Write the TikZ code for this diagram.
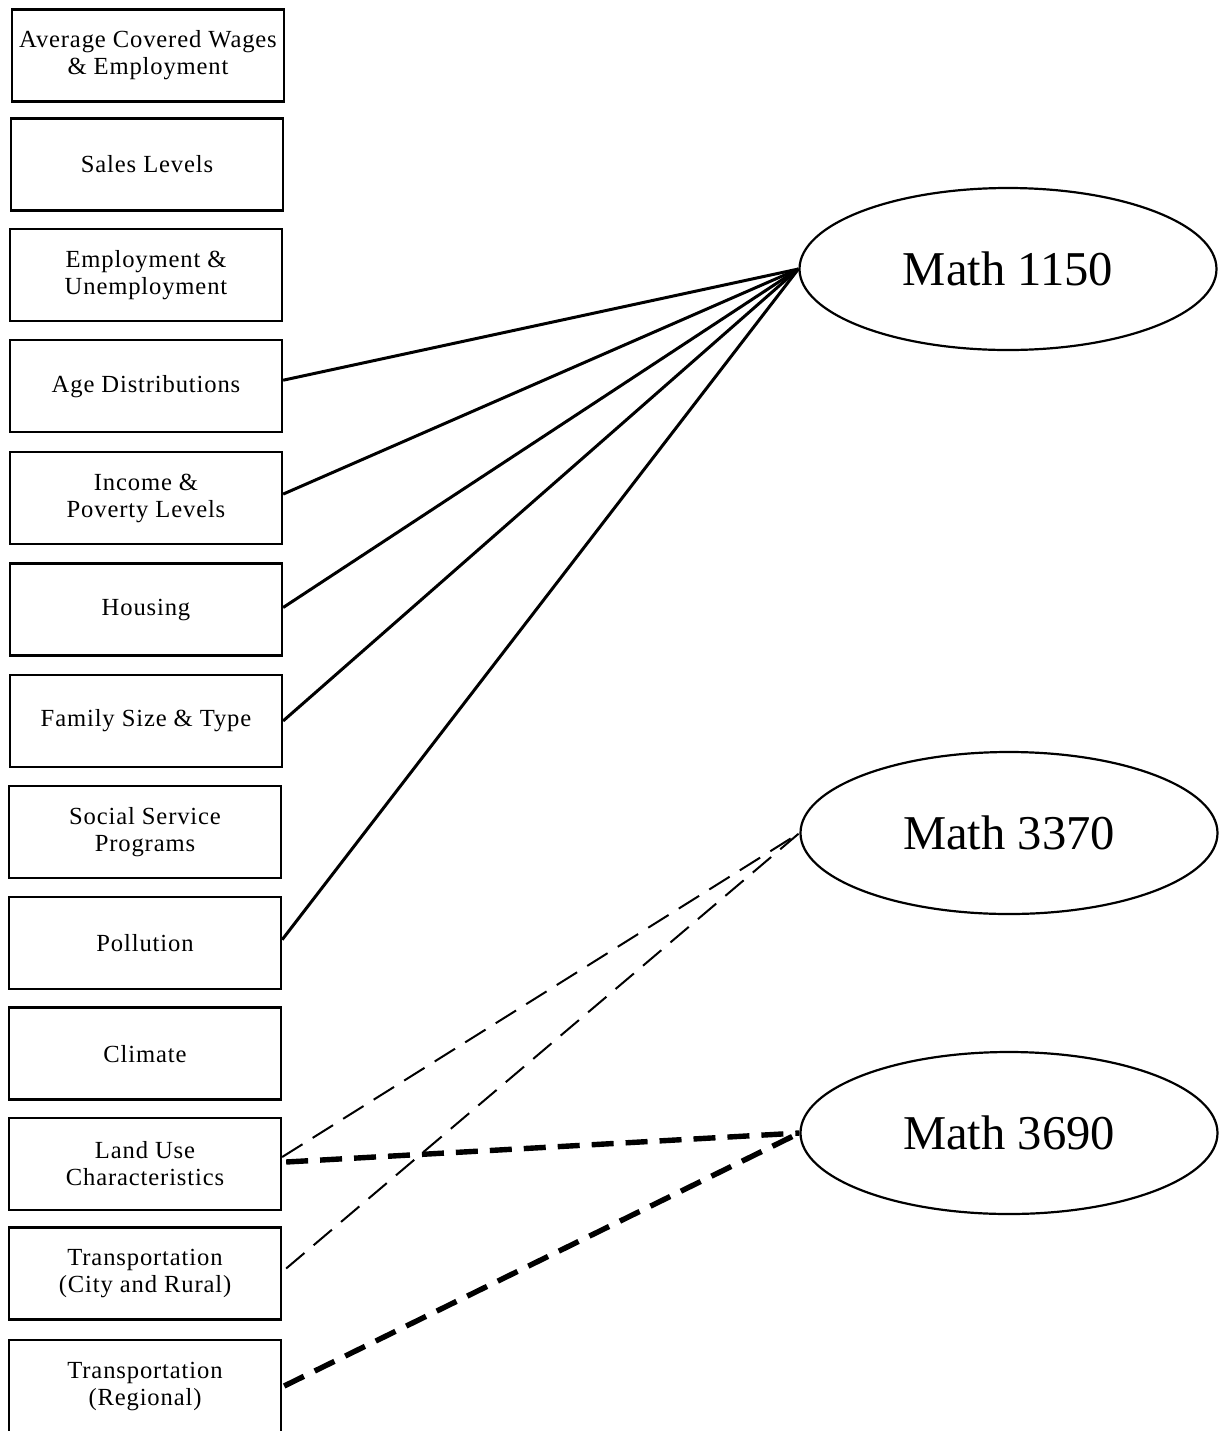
\documentclass[tikz,border=0pt]{standalone}
\usepackage{fontspec}
\setmainfont{Liberation Serif}
\newfontfamily\boxfont[LetterSpace=3.5]{Liberation Serif}
\usetikzlibrary{shapes.geometric}
\tikzset{
  factor/.style={draw, line width=1.15pt, minimum width=136pt, minimum height=46pt, inner sep=0pt, align=center, font=\boxfont\fontsize{12.3}{13.5}\selectfont},
  course/.style={draw, ellipse, line width=1.1pt, minimum width=208.5pt, minimum height=81pt, inner sep=0pt, font=\fontsize{24.3}{28}\selectfont},
  solidlink/.style={line width=1.5pt},
  thinlink/.style={line width=1pt, dash pattern=on 12pt off 6pt},
  thicklink/.style={line width=2.7pt, dash pattern=on 11pt off 6pt}
}
\begin{document}
\begin{tikzpicture}[x=0.5pt,y=-0.5pt]
\useasboundingbox (0,0) rectangle (1222,1431);
\node[factor] (b1) at (148,55.5) {Average Covered Wages\\\& Employment};
\node[factor] (b2) at (147,164.4) {Sales Levels};
\node[factor] (b3) at (146,275.3) {Employment \&\\Unemployment};
\node[factor] (b4) at (146,386.2) {Age Distributions};
\node[factor] (b5) at (146,498.1) {Income \&\\Poverty Levels};
\node[factor] (b6) at (146,609.5) {Housing};
\node[factor] (b7) at (146,720.9) {Family Size \& Type};
\node[factor] (b8) at (145,831.8) {Social Service\\Programs};
\node[factor] (b9) at (145,942.7) {Pollution};
\node[factor] (b10) at (145,1053.6) {Climate};
\node[factor] (b11) at (145,1164) {Land Use\\Characteristics};
\node[factor] (b12) at (145,1273.5) {Transportation\\(City and Rural)};
\node[factor] (b13) at (145,1386) {Transportation\\(Regional)};
\node[course] (m1) at (1008,269) {Math 1150};
\node[course] (m2) at (1009,833) {Math 3370};
\node[course] (m3) at (1009,1133) {Math 3690};
\draw[solidlink] ([yshift=3pt]b4.east) -- (m1.west);
\draw[solidlink] ([yshift=2pt]b5.east) -- (m1.west);
\draw[solidlink] ([yshift=1pt]b6.east) -- (m1.west);
\draw[solidlink] (b7.east) -- (m1.west);
\draw[solidlink] ([yshift=1.5pt]b9.east) -- (m1.west);
\draw[thinlink] ([yshift=3.5pt]b11.east) -- (m2.west);
\draw[thinlink] ([xshift=2pt,yshift=2.5pt]b12.east) -- (m2.west);
\draw[thicklink] ([xshift=2pt,yshift=1pt]b11.east) -- (m3.west);
\draw[thicklink] ([xshift=1pt]b13.east) -- (m3.west);
\end{tikzpicture}
\end{document}
